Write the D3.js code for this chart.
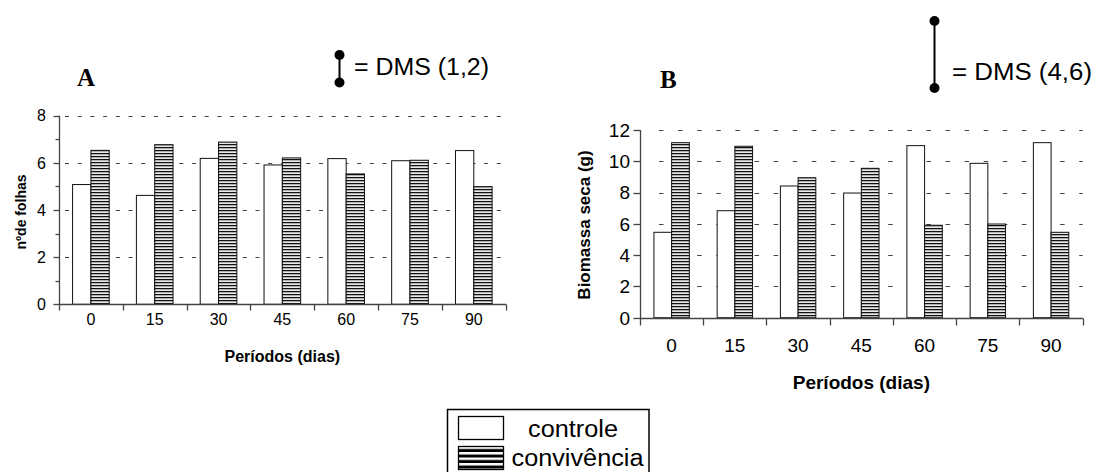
<!DOCTYPE html>
<html>
<head>
<meta charset="utf-8">
<script src="https://cdn.jsdelivr.net/npm/d3@7"></script>
<style>
  html, body { margin: 0; padding: 0; background: #fff; }
  svg { display: block; }
  text { font-family: Arial, "Liberation Sans", sans-serif; fill: #000; }
</style>
</head>
<body>
<svg id="chart" width="1098" height="472"></svg>
<script>
// ---------- DATA ----------
const categories = ["0", "15", "30", "45", "60", "75", "90"];
const seriesNames = ["controle", "convivência"];

// Panel A: nº de folhas
const controleA    = [5.08, 4.62, 6.19, 5.91, 6.18, 6.09, 6.52];
const convivenciaA = [6.53, 6.77, 6.88, 6.21, 5.53, 6.11, 4.99];
const yTicksA = [0, 2, 4, 6, 8];
const yMinorA = [1, 3, 5, 7];
const yGridA  = [2, 4, 6, 8];

// Panel B: Biomassa seca (g)
const controleB    = [5.46, 6.84, 8.42, 7.97, 11.0, 9.87, 11.19];
const convivenciaB = [11.19, 10.96, 8.95, 9.55, 5.91, 5.99, 5.46];
const yTicksB = [0, 2, 4, 6, 8, 10, 12];
const yGridB  = [2, 4, 6, 8, 10, 12];

const svg = d3.select("#chart");

// ---------- patterns ----------
const defs = svg.append("defs");
const pat = defs.append("pattern").attr("id", "stripes")
  .attr("patternUnits", "userSpaceOnUse").attr("width", 8).attr("height", 3);
pat.append("rect").attr("x", 0).attr("y", 0).attr("width", 8).attr("height", 1).attr("fill", "#111");
pat.append("rect").attr("x", 0).attr("y", 1).attr("width", 8).attr("height", 1).attr("fill", "#b0b0b0");
pat.append("rect").attr("x", 0).attr("y", 2).attr("width", 8).attr("height", 1).attr("fill", "#e8e8e8");

const patL = defs.append("pattern").attr("id", "stripesLegend")
  .attr("patternUnits", "userSpaceOnUse").attr("width", 8).attr("height", 5.5)
  .attr("y", 446.5);
patL.append("rect").attr("x", 0).attr("y", 0).attr("width", 8).attr("height", 2.5).attr("fill", "#fff");
patL.append("rect").attr("x", 0).attr("y", 2.5).attr("width", 8).attr("height", 3).attr("fill", "#000");

function panel(cfg) {
  const g = svg.append("g");
  const x = d3.scaleBand().domain(categories).range([cfg.x0, cfg.x1])
    .paddingInner(cfg.pad).paddingOuter(cfg.pad / 2);
  const xs = d3.scaleBand().domain(seriesNames).range([0, x.bandwidth()]);
  const y = d3.scaleLinear().domain(cfg.yDomain).range([cfg.y0, cfg.y1]);

  // gridlines
  g.append("g").selectAll("line").data(cfg.grid).join("line")
    .attr("x1", cfg.x0 + cfg.gridStart).attr("x2", cfg.x1)
    .attr("y1", d => Math.round(y(d)) + 0.5).attr("y2", d => Math.round(y(d)) + 0.5)
    .attr("stroke", "#444").attr("stroke-width", 1.2)
    .attr("stroke-dasharray", cfg.dash);

  // bars
  const rows = categories.map((c, i) => ({ c, vals: [cfg.ctrl[i], cfg.conv[i]] }));
  const cg = g.append("g").selectAll("g").data(rows).join("g")
    .attr("transform", d => `translate(${x(d.c)},0)`);
  cg.selectAll("rect").data(d => d.vals.map((v, k) => ({ v, s: seriesNames[k] }))).join("rect")
    .attr("x", d => xs(d.s))
    .attr("width", xs.bandwidth())
    .attr("y", d => y(d.v))
    .attr("height", d => y(0) - y(d.v))
    .attr("fill", d => d.s === "controle" ? "#fff" : "url(#stripes)")
    .attr("stroke", "#111").attr("stroke-width", 1);

  // axes
  const axisColor = "#444";
  const ax = Math.round(cfg.x0) + 0.5;
  const ay = Math.round(y(0)) + 0.5;
  g.append("line").attr("x1", ax).attr("x2", ax).attr("y1", y(cfg.yDomain[1])).attr("y2", ay + cfg.tick)
    .attr("stroke", axisColor).attr("stroke-width", 1.3);
  g.append("line").attr("x1", ax).attr("x2", cfg.x1 + 0.5).attr("y1", ay).attr("y2", ay)
    .attr("stroke", axisColor).attr("stroke-width", 1.3);
  g.append("g").selectAll("line").data(cfg.yTicks).join("line")
    .attr("x1", ax - cfg.tick).attr("x2", ax)
    .attr("y1", d => Math.round(y(d)) + 0.5).attr("y2", d => Math.round(y(d)) + 0.5)
    .attr("stroke", axisColor).attr("stroke-width", 1.3);
  g.append("g").selectAll("line").data(cfg.minor || []).join("line")
    .attr("x1", ax - 4).attr("x2", ax)
    .attr("y1", d => Math.round(y(d)) + 0.5).attr("y2", d => Math.round(y(d)) + 0.5)
    .attr("stroke", axisColor).attr("stroke-width", 1.3);
  const half = (x.step() - x.bandwidth()) / 2;
  const bounds = categories.map(c => x(c) - half).concat([cfg.x1]);
  g.append("g").selectAll("line").data(bounds.slice(1)).join("line")
    .attr("x1", d => Math.round(d) + 0.5).attr("x2", d => Math.round(d) + 0.5)
    .attr("y1", ay).attr("y2", ay + cfg.tick)
    .attr("stroke", axisColor).attr("stroke-width", 1.3);

  // y tick labels
  g.append("g").selectAll("text").data(cfg.yTicks).join("text")
    .attr("x", cfg.yLabelX).attr("y", d => y(d))
    .attr("dy", "0.36em")
    .attr("text-anchor", "end")
    .style("font-size", cfg.tickFont + "px")
    .text(d => d);
  // x tick labels
  g.append("g").selectAll("text").data(categories).join("text")
    .attr("x", d => x(d) + x.bandwidth() / 2).attr("y", cfg.xLabelY)
    .attr("text-anchor", "middle")
    .style("font-size", cfg.tickFont + "px")
    .text(d => d);
  // axis titles
  g.append("text").attr("x", (cfg.x0 + cfg.x1) / 2).attr("y", cfg.xTitleY)
    .attr("text-anchor", "middle").style("font-size", cfg.titleFont + "px").style("font-weight", "bold")
    .text("Períodos (dias)");
  g.append("text").attr("transform", `translate(${cfg.yTitleX},${cfg.yTitleY}) rotate(-90)`)
    .attr("text-anchor", "middle").style("font-size", cfg.yTitleFont + "px").style("font-weight", "bold")
    .text(cfg.yTitle);

  // panel letter
  g.append("text").attr("x", cfg.letterX).attr("y", cfg.letterY)
    .style("font-family", "'Liberation Serif', 'Times New Roman', serif")
    .style("font-size", "25px").style("font-weight", "bold")
    .text(cfg.letter);

  // DMS symbol
  g.append("line").attr("x1", cfg.dmsX).attr("x2", cfg.dmsX)
    .attr("y1", cfg.dmsTop).attr("y2", cfg.dmsBottom)
    .attr("stroke", "#000").attr("stroke-width", 2);
  g.selectAll("circle.dms").data([cfg.dmsTop, cfg.dmsBottom]).join("circle")
    .attr("cx", cfg.dmsX).attr("cy", d => d).attr("r", 5).attr("fill", "#000");
  g.append("text").attr("x", cfg.dmsTextX).attr("y", cfg.dmsTextY)
    .style("font-size", "23px")
    .attr("textLength", cfg.dmsTextLen).attr("lengthAdjust", "spacingAndGlyphs")
    .text("= DMS (" + cfg.dmsLabel + ")");
}

panel({
  x0: 59, x1: 505.7, y0: 304.3, y1: 115.7, yDomain: [0, 8], pad: 0.426,
  ctrl: controleA, conv: convivenciaA, yTicks: yTicksA, minor: yMinorA, grid: yGridA,
  gridStart: 6, dash: "4,8.7", tick: 6,
  yLabelX: 46, xLabelY: 325, tickFont: 16, xTitleY: 362, titleFont: 16,
  yTitle: "nºde folhas", yTitleX: 26, yTitleY: 212, yTitleFont: 14,
  letter: "A", letterX: 77, letterY: 86,
  dmsLabel: "1,2", dmsX: 339.5, dmsTop: 55, dmsBottom: 82.5, dmsTextX: 354, dmsTextY: 75, dmsTextLen: 135
});

panel({
  x0: 640, x1: 1082.7, y0: 317.7, y1: 130, yDomain: [0, 12], pad: 0.44,
  ctrl: controleB, conv: convivenciaB, yTicks: yTicksB, minor: [], grid: yGridB,
  gridStart: 19, dash: "4.5,14.6", tick: 7,
  yLabelX: 630, xLabelY: 352, tickFont: 19, xTitleY: 389, titleFont: 19,
  yTitle: "Biomassa seca (g)", yTitleX: 590, yTitleY: 225, yTitleFont: 17,
  letter: "B", letterX: 660, letterY: 88,
  dmsLabel: "4,6", dmsX: 934.5, dmsTop: 21, dmsBottom: 88, dmsTextX: 952, dmsTextY: 80, dmsTextLen: 140
});

// ---------- legend ----------
const lg = svg.append("g");
lg.append("rect").attr("x", 447.5).attr("y", 409.5).attr("width", 201.5).attr("height", 80)
  .attr("fill", "#fff").attr("stroke", "#000").attr("stroke-width", 1.5);
const legendItems = [
  { name: seriesNames[0], fill: "#fff", y: 416.5, tx: 528, ty: 437, len: 90 },
  { name: seriesNames[1], fill: "url(#stripesLegend)", y: 446.5, tx: 511.5, ty: 465.5, len: 132 }
];
lg.selectAll("rect.sw").data(legendItems).join("rect").attr("class", "sw")
  .attr("x", 458.5).attr("y", d => d.y).attr("width", 45).attr("height", 23)
  .attr("fill", d => d.fill).attr("stroke", "#000").attr("stroke-width", 1.3);
lg.selectAll("text").data(legendItems).join("text")
  .attr("x", d => d.tx).attr("y", d => d.ty)
  .style("font-size", "23px")
  .attr("textLength", d => d.len).attr("lengthAdjust", "spacingAndGlyphs")
  .text(d => d.name);
</script>
</body>
</html>
